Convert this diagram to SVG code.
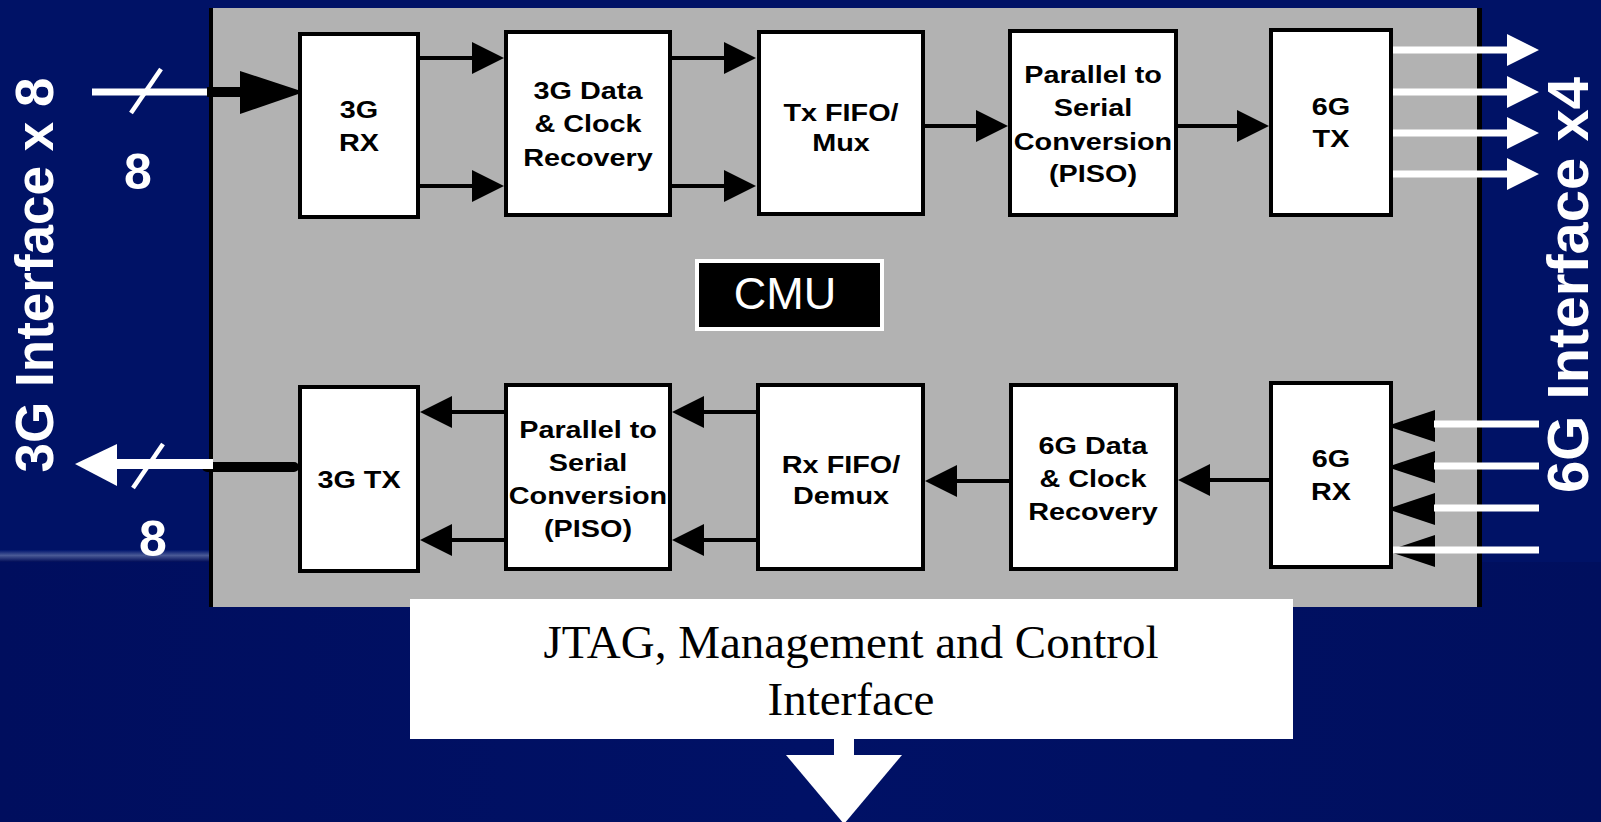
<svg xmlns="http://www.w3.org/2000/svg" width="1601" height="822" viewBox="0 0 1601 822">
<defs>
<style>
.box{fill:#fff;stroke:#000;stroke-width:4}
.lbl{font-family:"Liberation Sans",Arial,sans-serif;font-weight:bold;font-size:24px;fill:#000;text-anchor:middle}
.side{font-family:"Liberation Sans",Arial,sans-serif;font-weight:bold;fill:#fff;text-anchor:middle}
.conn{stroke:#000;stroke-width:4;fill:none}
.wl{stroke:#fff;stroke-width:7;fill:none}
</style>
<marker id="ah" markerUnits="userSpaceOnUse" markerWidth="34" markerHeight="34" viewBox="0 -17 34 34" refX="0" refY="0" orient="auto">
<path d="M0,-16 L32,0 L0,16 Z" fill="#000"/>
</marker>
<linearGradient id="band" x1="0" y1="0" x2="0" y2="1">
<stop offset="0" stop-color="#00156e"/>
<stop offset="0.45" stop-color="#4a5a96"/>
<stop offset="1" stop-color="#000c58"/>
</linearGradient>
<linearGradient id="low" x1="0" y1="0" x2="1" y2="0">
<stop offset="0" stop-color="#000e5e"/>
<stop offset="0.5" stop-color="#001166"/>
<stop offset="1" stop-color="#000f5e"/>
</linearGradient>
</defs>

<g id="background">
<rect x="0" y="0" width="1601" height="822" fill="#001266"/>
<rect x="0" y="562" width="1601" height="260" fill="url(#low)"/>
<rect x="0" y="550" width="210" height="12" fill="url(#band)"/>
</g>

<g id="chip">
<rect x="210" y="8" width="1270" height="599" fill="#b2b2b2"/>
<line x1="211" y1="8" x2="211" y2="607" stroke="#000" stroke-width="4"/>
<line x1="1479.5" y1="8" x2="1479.5" y2="607" stroke="#000" stroke-width="5"/>
</g>

<g id="side-labels">
<text class="side" font-size="53" transform="translate(53,275) rotate(-90)">3G Interface x 8</text>
<text class="side" font-size="58" transform="translate(1588,285) rotate(-90)">6G Interface x4</text>
<text class="side" font-size="50" x="138" y="189">8</text>
<text class="side" font-size="50" x="153" y="556">8</text>
</g>

<g id="connectors">
<!-- external 3G in -->
<line x1="92" y1="92" x2="208" y2="92" stroke="#fff" stroke-width="7"/>
<line x1="207" y1="92" x2="242" y2="92" stroke="#000" stroke-width="10"/>
<path d="M240,71 L304,92 L240,114 Z" fill="#000"/>
<line x1="131" y1="113" x2="161" y2="69" stroke="#fff" stroke-width="4.5"/>
<!-- external 3G out -->
<line x1="207" y1="467" x2="294" y2="467" stroke="#000" stroke-width="10" stroke-linecap="round"/>
<line x1="115" y1="464" x2="213" y2="464" stroke="#fff" stroke-width="10"/>
<path d="M117,444 L75,464 L117,486 Z" fill="#fff"/>
<line x1="133" y1="488" x2="163" y2="444" stroke="#fff" stroke-width="4.5"/>
<!-- 6G TX outputs -->
<g>
<line class="wl" x1="1389" y1="50" x2="1509" y2="50"/>
<line class="wl" x1="1389" y1="92" x2="1509" y2="92"/>
<line class="wl" x1="1389" y1="133" x2="1509" y2="133"/>
<line class="wl" x1="1389" y1="174" x2="1509" y2="174"/>
<path d="M1507,34 L1539,50 L1507,66 Z M1507,76 L1539,92 L1507,108 Z M1507,117 L1539,133 L1507,149 Z M1507,158 L1539,174 L1507,190 Z" fill="#fff"/>
</g>
<!-- 6G RX inputs -->
<g>
<path d="M1435,410 L1387,426 L1435,442 Z M1435,451 L1387,467 L1435,483 Z M1435,493 L1387,509 L1435,525 Z M1435,535 L1387,551 L1435,567 Z" fill="#000"/>
<line class="wl" x1="1434" y1="424" x2="1539" y2="424"/>
<line class="wl" x1="1434" y1="466" x2="1539" y2="466"/>
<line class="wl" x1="1434" y1="508" x2="1539" y2="508"/>
<line class="wl" x1="1387" y1="550" x2="1539" y2="550"/>
</g>
<!-- internal top row -->
<line class="conn" x1="420" y1="58" x2="472" y2="58" marker-end="url(#ah)"/>
<line class="conn" x1="420" y1="186" x2="472" y2="186" marker-end="url(#ah)"/>
<line class="conn" x1="672" y1="58" x2="724" y2="58" marker-end="url(#ah)"/>
<line class="conn" x1="672" y1="186" x2="724" y2="186" marker-end="url(#ah)"/>
<line class="conn" x1="925" y1="126" x2="976" y2="126" marker-end="url(#ah)"/>
<line class="conn" x1="1178" y1="126" x2="1237" y2="126" marker-end="url(#ah)"/>
<!-- internal bottom row -->
<line class="conn" x1="1269" y1="480" x2="1210" y2="480" marker-end="url(#ah)"/>
<line class="conn" x1="1009" y1="481" x2="957" y2="481" marker-end="url(#ah)"/>
<line class="conn" x1="756" y1="412" x2="704" y2="412" marker-end="url(#ah)"/>
<line class="conn" x1="756" y1="540" x2="704" y2="540" marker-end="url(#ah)"/>
<line class="conn" x1="504" y1="412" x2="452" y2="412" marker-end="url(#ah)"/>
<line class="conn" x1="504" y1="540" x2="452" y2="540" marker-end="url(#ah)"/>
<!-- JTAG down arrow -->
<rect x="834" y="738" width="20" height="18" fill="#fff"/>
<path d="M786,755 L902,755 L844,824 Z" fill="#fff"/>
</g>

<g id="n-3grx">
<rect class="box" x="300" y="34" width="118" height="183"/>
<text class="lbl" transform="translate(359,0) scale(1.2,1)"><tspan x="0" y="118">3G</tspan><tspan x="0" y="151">RX</tspan></text>
</g>
<g id="n-3gdcr">
<rect class="box" x="506" y="32" width="164" height="183"/>
<text class="lbl" transform="translate(588,0) scale(1.2,1)"><tspan x="0" y="99">3G Data</tspan><tspan x="0" y="132">&amp; Clock</tspan><tspan x="0" y="166">Recovery</tspan></text>
</g>
<g id="n-txfifo">
<rect class="box" x="759" y="32" width="164" height="182"/>
<text class="lbl" transform="translate(841,0) scale(1.2,1)"><tspan x="0" y="121">Tx FIFO/</tspan><tspan x="0" y="151">Mux</tspan></text>
</g>
<g id="n-piso-tx">
<rect class="box" x="1010" y="31" width="166" height="184"/>
<text class="lbl" transform="translate(1093,0) scale(1.2,1)"><tspan x="0" y="83">Parallel to</tspan><tspan x="0" y="116">Serial</tspan><tspan x="0" y="150">Conversion</tspan><tspan x="0" y="182">(PISO)</tspan></text>
</g>
<g id="n-6gtx">
<rect class="box" x="1271" y="30" width="120" height="185"/>
<text class="lbl" transform="translate(1331,0) scale(1.2,1)"><tspan x="0" y="115">6G</tspan><tspan x="0" y="147">TX</tspan></text>
</g>

<g id="n-cmu">
<rect x="697" y="261" width="185" height="68" fill="#000" stroke="#fff" stroke-width="4"/>
<text x="785" y="309" font-family="'Liberation Sans',Arial,sans-serif" font-size="45" fill="#fff" text-anchor="middle">CMU</text>
</g>

<g id="n-3gtx">
<rect class="box" x="300" y="387" width="118" height="184"/>
<text class="lbl" transform="translate(359,0) scale(1.2,1)"><tspan x="0" y="488">3G TX</tspan></text>
</g>
<g id="n-piso-rx">
<rect class="box" x="506" y="385" width="164" height="184"/>
<text class="lbl" transform="translate(588,0) scale(1.2,1)"><tspan x="0" y="438">Parallel to</tspan><tspan x="0" y="471">Serial</tspan><tspan x="0" y="504">Conversion</tspan><tspan x="0" y="537">(PISO)</tspan></text>
</g>
<g id="n-rxfifo">
<rect class="box" x="758" y="385" width="165" height="184"/>
<text class="lbl" transform="translate(841,0) scale(1.2,1)"><tspan x="0" y="473">Rx FIFO/</tspan><tspan x="0" y="504">Demux</tspan></text>
</g>
<g id="n-6gdcr">
<rect class="box" x="1011" y="385" width="165" height="184"/>
<text class="lbl" transform="translate(1093,0) scale(1.2,1)"><tspan x="0" y="454">6G Data</tspan><tspan x="0" y="487">&amp; Clock</tspan><tspan x="0" y="520">Recovery</tspan></text>
</g>
<g id="n-6grx">
<rect class="box" x="1271" y="383" width="120" height="184"/>
<text class="lbl" transform="translate(1331,0) scale(1.2,1)"><tspan x="0" y="467">6G</tspan><tspan x="0" y="500">RX</tspan></text>
</g>

<g id="n-jtag">
<rect x="410" y="599" width="883" height="140" fill="#fff"/>
<text font-family="'Liberation Serif','Times New Roman',serif" font-size="47" fill="#000" text-anchor="middle"><tspan x="851" y="658">JTAG, Management and Control</tspan><tspan x="851" y="715">Interface</tspan></text>
</g>
</svg>
